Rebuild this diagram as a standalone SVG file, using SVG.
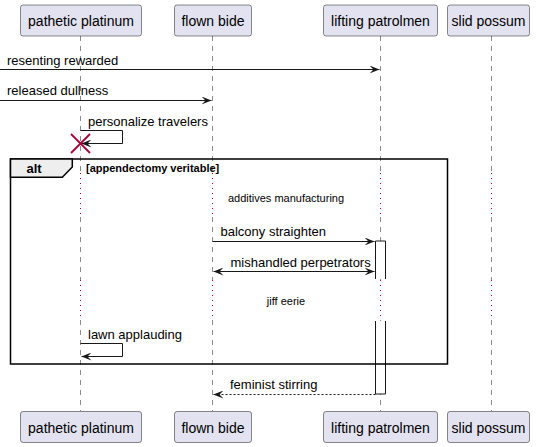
<svg xmlns="http://www.w3.org/2000/svg" width="540" height="447" viewBox="0 0 540 447">
<style>
.pbox{fill:#E2E2F0;stroke:#181818;stroke-width:0.5}
.ptxt{font-family:"Liberation Sans",Arial,sans-serif;font-size:14px;fill:#000;text-anchor:middle}
.life{stroke:#181818;stroke-width:0.5;stroke-dasharray:5,5;fill:none}
.delay{stroke:#A80036;stroke-width:1;stroke-dasharray:1,4;fill:none}
.msg{stroke:#181818;stroke-width:1;fill:none}
.dash{stroke-dasharray:2,2}
.mtxt{font-family:"Liberation Sans",Arial,sans-serif;font-size:13px;fill:#000}
.dtxt{font-family:"Liberation Sans",Arial,sans-serif;font-size:11px;fill:#000;text-anchor:middle}
.act{fill:#FFFFFF;stroke:#181818;stroke-width:1}
</style>
<defs>
<marker id="ah" viewBox="0 0 10 8" refX="10" refY="4" markerWidth="10" markerHeight="8" markerUnits="userSpaceOnUse" orient="auto-start-reverse">
<path d="M0,0 L10,4 L0,8 L4,4 Z" fill="#181818"/>
</marker>
</defs>
<g id="lifelines">
<line class="life" x1="80.5" y1="36" x2="80.5" y2="173"/>
<line class="delay" x1="80.5" y1="173" x2="80.5" y2="217"/>
<line class="life" x1="80.5" y1="217" x2="80.5" y2="280"/>
<line class="delay" x1="80.5" y1="280" x2="80.5" y2="320"/>
<line class="life" x1="80.5" y1="320" x2="80.5" y2="411"/>
<line class="life" x1="212.5" y1="36" x2="212.5" y2="173"/>
<line class="delay" x1="212.5" y1="173" x2="212.5" y2="217"/>
<line class="life" x1="212.5" y1="217" x2="212.5" y2="280"/>
<line class="delay" x1="212.5" y1="280" x2="212.5" y2="320"/>
<line class="life" x1="212.5" y1="320" x2="212.5" y2="411"/>
<line class="life" x1="380.5" y1="36" x2="380.5" y2="173"/>
<line class="delay" x1="380.5" y1="173" x2="380.5" y2="217"/>
<line class="life" x1="380.5" y1="217" x2="380.5" y2="280"/>
<line class="delay" x1="380.5" y1="280" x2="380.5" y2="320"/>
<line class="life" x1="380.5" y1="320" x2="380.5" y2="411"/>
<line class="life" x1="491.5" y1="36" x2="491.5" y2="173"/>
<line class="delay" x1="491.5" y1="173" x2="491.5" y2="217"/>
<line class="life" x1="491.5" y1="217" x2="491.5" y2="280"/>
<line class="delay" x1="491.5" y1="280" x2="491.5" y2="320"/>
<line class="life" x1="491.5" y1="320" x2="491.5" y2="411"/>
</g>
<g id="p1"><rect class="pbox" x="20.5" y="5" width="121" height="31" rx="2.5"/><text class="ptxt" x="81" y="26">pathetic platinum</text>
<rect class="pbox" x="20.5" y="411.5" width="121" height="31" rx="2.5"/><text class="ptxt" x="81" y="432.5">pathetic platinum</text></g>
<g id="p2"><rect class="pbox" x="174.5" y="5" width="77" height="31" rx="2.5"/><text class="ptxt" x="213" y="26">flown bide</text>
<rect class="pbox" x="174.5" y="411.5" width="77" height="31" rx="2.5"/><text class="ptxt" x="213" y="432.5">flown bide</text></g>
<g id="p3"><rect class="pbox" x="323.5" y="5" width="114" height="31" rx="2.5"/><text class="ptxt" x="380.5" y="26">lifting patrolmen</text>
<rect class="pbox" x="323.5" y="411.5" width="114" height="31" rx="2.5"/><text class="ptxt" x="380.5" y="432.5">lifting patrolmen</text></g>
<g id="p4"><rect class="pbox" x="447.5" y="5" width="82" height="31" rx="2.5"/><text class="ptxt" x="488.5" y="26">slid possum</text>
<rect class="pbox" x="447.5" y="411.5" width="82" height="31" rx="2.5"/><text class="ptxt" x="488.5" y="432.5">slid possum</text></g>
<g id="activations">
<path class="act" d="M375.5,279 V241 H385.5 V279"/>
<path class="act" d="M375.5,321 V394 H385.5 V321"/>
</g>
<g id="alt">
<rect x="10.5" y="159" width="437" height="205" fill="none" stroke="#000" stroke-width="1.5"/>
<path d="M10.5,159 H72.3 V167 L62.3,177.3 H10.5 Z" fill="#EEEEEE" stroke="#000" stroke-width="1.5"/>
<text x="34" y="173" font-family="Liberation Sans,Arial,sans-serif" font-size="13" font-weight="bold" text-anchor="middle">alt</text>
<text x="86" y="171.5" font-family="Liberation Sans,Arial,sans-serif" font-size="11" font-weight="bold">[appendectomy veritable]</text>
</g>
<g id="connectors">
<line class="msg" x1="0" y1="69.5" x2="379.5" y2="69.5" marker-end="url(#ah)"/>
<text class="mtxt" x="7" y="65">resenting rewarded</text>
<line class="msg" x1="0" y1="100.5" x2="211.5" y2="100.5" marker-end="url(#ah)"/>
<text class="mtxt" x="7" y="95">released dullness</text>
<path class="msg" d="M80.5,130.5 H122.5 V143.5 H81.5" marker-end="url(#ah)"/>
<text class="mtxt" x="88" y="125.5">personalize travelers</text>
<g stroke="#A80036" stroke-width="1.8"><line x1="71" y1="134" x2="90" y2="153"/><line x1="90" y1="134" x2="71" y2="153"/></g>
<text class="dtxt" x="286" y="202">additives manufacturing</text>
<line class="msg" x1="212.5" y1="241.5" x2="374.5" y2="241.5" marker-end="url(#ah)"/>
<text class="mtxt" x="220.5" y="236">balcony straighten</text>
<line class="msg" x1="213.5" y1="271.5" x2="374.5" y2="271.5" marker-start="url(#ah)" marker-end="url(#ah)"/>
<text class="mtxt" x="230.5" y="267">mishandled perpetrators</text>
<text class="dtxt" x="286" y="305">jiff eerie</text>
<path class="msg" d="M80.5,343.5 H122.5 V356.5 H81.5" marker-end="url(#ah)"/>
<text class="mtxt" x="88" y="338.5">lawn applauding</text>
<line class="msg dash" x1="375.5" y1="394.5" x2="213.5" y2="394.5" marker-end="url(#ah)"/>
<text class="mtxt" x="230" y="389">feminist stirring</text>
</g>
</svg>
